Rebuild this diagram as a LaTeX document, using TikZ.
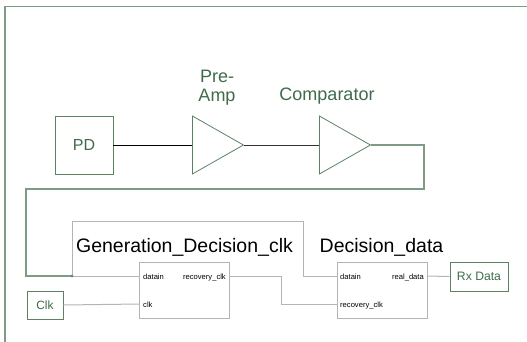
\documentclass[tikz,border=0pt]{standalone}
\usepackage{fontspec}
\setmainfont{Liberation Sans}
\usepackage{tikz}
\usetikzlibrary{positioning}
\usetikzlibrary{shapes.geometric}
\definecolor{framegreen}{HTML}{7F9A85}
\definecolor{boxgreen}{HTML}{5C8264}
\definecolor{textgreen}{HTML}{3F6B4A}
\definecolor{wiregray}{HTML}{B4B4B4}

\begin{document}
\begin{tikzpicture}[x=1pt, y=-1pt,
greenbox/.style={rectangle, draw=boxgreen, line width=0.9pt, inner sep=0pt, text=textgreen},
blockbox/.style={rectangle, draw=wiregray, line width=0.8pt, inner sep=0pt, minimum width=90pt, minimum height=56pt},
ampnode/.style={isosceles triangle, isosceles triangle stretches, draw=boxgreen, line width=0.8pt, inner sep=0pt, minimum height=51pt, minimum width=58pt, anchor=lower side},
portlabel/.style={inner sep=0pt, font=\fontsize{7.6}{8}\selectfont},
titlelabel/.style={inner sep=0pt, anchor=base, font=\fontsize{19.5}{22}\selectfont},
greenlabel/.style={inner sep=0pt, anchor=base, text=textgreen, font=\fontsize{18}{20}\selectfont},
]
\useasboundingbox (0,0) rectangle (527,341);
\draw[framegreen, line width=1.3pt] (5,345) -- (5,6.5) -- (532,6.5);

%Nodes
\node[greenbox, minimum width=58pt, minimum height=58pt, font=\fontsize{16}{18}\selectfont] (pd) at (84,145) {PD};
\node[ampnode] (amp) at (192,145) {};
\node[ampnode] (cmp) at (319,145) {};
\node[greenlabel] (preamp1) at (217,82) {Pre-};
\node[greenlabel] (preamp2) at (217,101) {Amp};
\node[greenlabel] (comp) at (327,100) {Comparator};

\node[blockbox] (gen) at (184,290) {};
\node[blockbox] (dec) at (382,290) {};
\node[titlelabel] (gentitle) at (184.5,252) {Generation\_Decision\_clk};
\node[titlelabel] (dectitle) at (381.5,252) {Decision\_data};

\node[greenbox, minimum width=36pt, minimum height=28pt, font=\fontsize{12}{14}\selectfont] (clk) at (45,305) {Clk};
\node[greenbox, minimum width=58pt, minimum height=29pt, font=\fontsize{12.2}{14}\selectfont] (rx) at (479,276.5) {Rx Data};

%Ports
\coordinate (gen-in)  at (139,276);
\coordinate (gen-clk) at (139,304);
\coordinate (gen-out) at (229,276);
\coordinate (dec-in)  at (337,276);
\coordinate (dec-clk) at (337,304);
\coordinate (dec-out) at (427,276);
\node[portlabel, anchor=base west] (l1) at (143,279) {datain};
\node[portlabel, anchor=base west] (l2) at (143,307) {clk};
\node[portlabel, anchor=base east] (l3) at (226,279) {recovery\_clk};
\node[portlabel, anchor=base west] (l4) at (340,279) {datain};
\node[portlabel, anchor=base west] (l5) at (340,307) {recovery\_clk};
\node[portlabel, anchor=base east] (l6) at (424,279) {real\_data};

\coordinate (loop) at (424,189);
\coordinate (junc) at (72,276);
\coordinate (bend) at (303,221);

%Lines
\draw[black, line width=0.8pt] (pd.east) -- (amp.lower side);
\draw[black!80, line width=0.8pt] (amp.apex) -- (cmp.lower side);
\draw[framegreen, line width=1.2pt] (cmp.apex) -| (loop) -- (26,189) |- (junc);
\draw[wiregray, line width=1pt] (junc) -- (gen-in);
\draw[wiregray, line width=1pt] (junc) |- (bend) |- (dec-in);
\draw[wiregray, line width=1pt] (clk.east) -- (gen-clk);
\draw[wiregray, line width=1pt] (gen-out) -- ++(52,0) |- (dec-clk);
\draw[wiregray, line width=1pt] (dec-out) -- (rx.west);
\fill[gray] (junc) circle (1.6pt);
\end{tikzpicture}
\end{document}
